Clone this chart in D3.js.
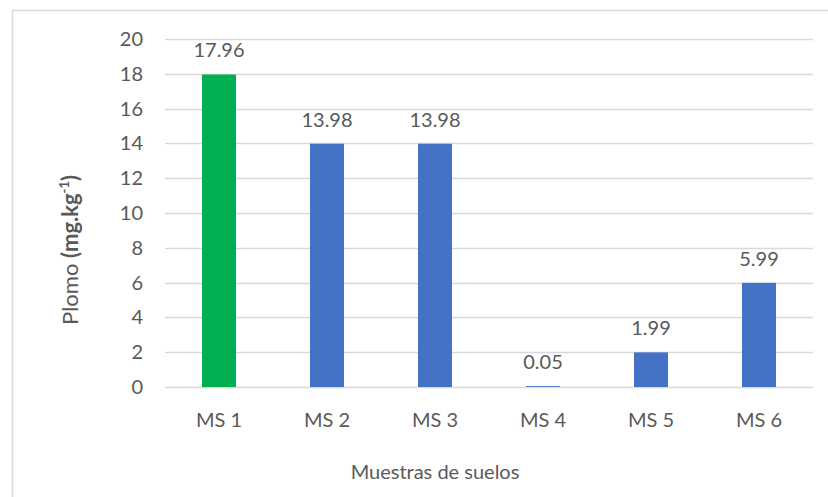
<!DOCTYPE html>
<html>
<head>
<meta charset="utf-8">
<script src="https://cdn.jsdelivr.net/npm/d3@7"></script>
<style>
  body { margin: 0; background: #fff; }
  svg text { font-family: Lato, "Open Sans", sans-serif; fill: #595959; }
</style>
</head>
<body>
<div id="chartContainer"></div>
<script>
var muestras = ['MS 1', 'MS 2', 'MS 3', 'MS 4', 'MS 5', 'MS 6']
var plomo = [17.96, 13.98, 13.98, 0.05, 1.99, 5.99]
var colores = ['#00b050', '#4472c4', '#4472c4', '#4472c4', '#4472c4', '#4472c4']
var yTicks = [0, 2, 4, 6, 8, 10, 12, 14, 16, 18, 20]

var data = muestras.map(function(m, i) {
    return { name: m, val: plomo[i], col: colores[i] }
})

var width = 828, height = 497
var plot = { left: 165, right: 813, top: 39, bottom: 387 }

var svg = d3.select('#chartContainer').append('svg')
    .attr('width', width)
    .attr('height', height)

// chart frame
svg.append('rect')
    .attr('x', 12.5).attr('y', 10.5)
    .attr('width', 840).attr('height', 520)
    .attr('fill', 'none')
    .attr('stroke', '#d9d9d9')
    .attr('stroke-width', 1.5)

var xScale = d3.scaleBand()
    .domain(muestras)
    .range([plot.left, plot.right])
    .padding(0)

var yScale = d3.scaleLinear()
    .domain([0, 20])
    .range([plot.bottom, plot.top])

var barW = xScale.bandwidth() * 0.315

// gridlines
svg.append('g')
    .selectAll('line')
    .data(yTicks)
    .enter()
    .append('line')
    .attr('x1', plot.left).attr('x2', plot.right)
    .attr('y1', function(d) { return Math.round(yScale(d)) + 0.5 })
    .attr('y2', function(d) { return Math.round(yScale(d)) + 0.5 })
    .attr('stroke', '#d9d9d9')
    .attr('stroke-width', 1.3)

// y axis labels
var yAxis = d3.axisLeft(yScale).tickValues(yTicks).tickSize(0).tickPadding(22)
var yG = svg.append('g').attr('transform', 'translate(' + plot.left + ',0)').call(yAxis)
yG.select('.domain').remove()
yG.selectAll('text').style('font-size', '20px').style('font-family', 'Lato, sans-serif').attr('fill', '#595959')

// x axis labels
var xAxis = d3.axisBottom(xScale).tickSize(0).tickPadding(26)
var xG = svg.append('g').attr('transform', 'translate(0,' + plot.bottom + ')').call(xAxis)
xG.select('.domain').remove()
xG.selectAll('text').style('font-size', '20px').style('font-family', 'Lato, sans-serif').attr('fill', '#595959')

// bars
svg.selectAll('.bar')
    .data(data)
    .enter()
    .append('rect')
    .attr('class', 'bar')
    .attr('x', function(d) { return xScale(d.name) + (xScale.bandwidth() - barW) / 2 })
    .attr('width', barW)
    .attr('y', function(d) { return yScale(d.val) })
    .attr('height', function(d) { return plot.bottom - yScale(d.val) })
    .attr('fill', function(d) { return d.col })

// value labels
svg.selectAll('.lbl')
    .data(data)
    .enter()
    .append('text')
    .attr('class', 'lbl')
    .attr('x', function(d) { return xScale(d.name) + xScale.bandwidth() / 2 })
    .attr('y', function(d) { return yScale(d.val) - 17 })
    .attr('text-anchor', 'middle')
    .style('font-size', '20px')
    .text(function(d) { return d.val.toFixed(2) })

// axis titles
svg.append('text')
    .attr('x', 435).attr('y', 479)
    .attr('text-anchor', 'middle')
    .style('font-size', '20px')
    .text('Muestras de suelos')

var yt = svg.append('text')
    .attr('transform', 'translate(78,250) rotate(-90)')
    .attr('text-anchor', 'middle')
    .style('font-size', '22px')
yt.append('tspan').text('Plomo ')
yt.append('tspan').style('font-weight', 'bold').text('(mg.kg')
yt.append('tspan').style('font-weight', 'bold').style('font-size', '13px').attr('dy', -9).text('-1')
yt.append('tspan').style('font-weight', 'bold').attr('dy', 9).text(')')
</script>
</body>
</html>
